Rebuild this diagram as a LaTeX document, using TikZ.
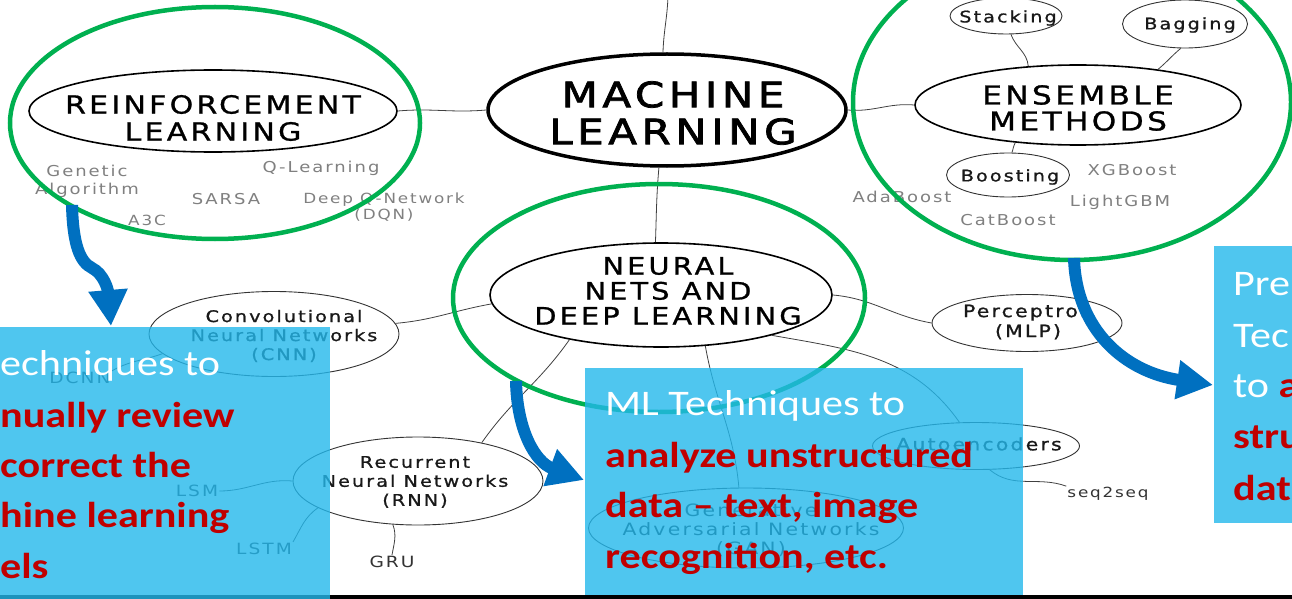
\documentclass[tikz,border=0pt]{standalone}
\usepackage{fontspec}
\usepackage{graphicx}
\usetikzlibrary{shapes.geometric,arrows.meta}
\newfontfamily\hand[FakeStretch=1.2,LetterSpace=13]{DejaVu Sans}
\newfontfamily\handmid[FakeStretch=1.2,LetterSpace=13,FakeBold=1]{DejaVu Sans}
\newfontfamily\handbold[FakeStretch=1.2,LetterSpace=13,FakeBold=2.2]{DejaVu Sans}
\newfontfamily\slide{Carlito}
\newcommand{\stretchx}[1]{\scalebox{1.17}[1]{#1}}
\definecolor{mmgreen}{RGB}{0,176,80}
\definecolor{arrowblue}{RGB}{0,112,192}
\definecolor{boxblue}{RGB}{35,184,236}
\definecolor{boxred}{RGB}{192,0,0}
\definecolor{leafgray}{RGB}{128,128,128}
\tikzset{
  bigblob/.style={draw=black, line width=1.6pt, ellipse, inner sep=0pt},
  smallblob/.style={draw=black!80, line width=0.9pt, ellipse, inner sep=0pt},
  titletext/.style={align=center, inner sep=0pt, text=black},
  nodetext/.style={align=center, inner sep=0pt, text=black!90, font={\handmid\fontsize{16}{19}\selectfont}},
  leaf/.style={align=center, inner sep=1pt, text=leafgray, font={\hand\fontsize{15}{18}\selectfont}},
  darkleaf/.style={align=center, inner sep=1pt, text=black!80, font={\hand\fontsize{15.5}{18}\selectfont}},
  link/.style={draw=black!75, line width=0.8pt},
  focus/.style={draw=mmgreen, line width=4.5pt, ellipse, inner sep=0pt},
  bluearrow/.style={draw=arrowblue, line width=12pt, -{Triangle[length=36pt,width=37pt]}},
  panel/.style={fill=boxblue, fill opacity=0.8, draw=none, inner sep=0pt, anchor=north west},
  whiteline/.style={font={\slide\fontsize{36}{40}\selectfont}, text=white, anchor=base west, inner sep=0pt},
  redline/.style={font={\slide\bfseries\fontsize{36}{40}\selectfont}, text=boxred, anchor=base west, inner sep=0pt},
}
\begin{document}
\begin{tikzpicture}[x=1pt,y=-1pt]
\useasboundingbox (0,0) rectangle (1292,599);
\fill[white] (0,0) rectangle (1292,599);

% ---- main concept blobs ----
\node[bigblob, line width=3.5pt, minimum width=358pt, minimum height=112pt] (ml) at (667,110) {};
\node[titletext, font={\handbold\fontsize{35}{37}\selectfont}] (mlt) at (673,113) {MACHINE\\LEARNING};

\node[bigblob, minimum width=368pt, minimum height=82pt] (rl) at (213,111) {};
\node[titletext, font={\handmid\fontsize{25}{27}\selectfont}] (rlt) at (213,118) {REINFORCEMENT\\LEARNING};

\node[bigblob, minimum width=326pt, minimum height=80pt] (ens) at (1078,105) {};
\node[titletext, font={\handmid\fontsize{26}{26}\selectfont}] (enst) at (1078,108) {ENSEMBLE\\METHODS};

\node[bigblob, minimum width=342pt, minimum height=104pt] (nn) at (661,295) {};
\node[titletext, font={\handmid\fontsize{24}{25}\selectfont}] (nnt) at (668,291) {NEURAL\\NETS AND\\DEEP LEARNING};

% ---- sub blobs ----
\node[smallblob, minimum width=112pt, minimum height=36pt] (stack) at (1006,16) {};
\node[nodetext] (stackt) at (1008,18) {Stacking};
\node[smallblob, minimum width=125pt, minimum height=48pt] (bag) at (1185,24) {};
\node[nodetext] (bagt) at (1190,25) {Bagging};
\node[smallblob, minimum width=123pt, minimum height=44pt] (boost) at (1008,175) {};
\node[nodetext] (boostt) at (1010,177) {Boosting};
\node[smallblob, minimum width=250pt, minimum height=85pt] (cnn) at (274,334) {};
\node[nodetext] (cnnt) at (284,336) {Convolutional\\Neural Networks\\(CNN)};
\node[smallblob, minimum width=250pt, minimum height=88pt] (rnn) at (418,481) {};
\node[nodetext] (rnnt) at (415,482) {Recurrent\\Neural Networks\\(RNN)};
\node[smallblob, minimum width=190pt, minimum height=57pt] (perc) at (1027,323) {};
\node[nodetext, font={\handmid\fontsize{17}{20}\selectfont}] (perct) at (1028,322) {Perceptron\\(MLP)};
\node[smallblob, minimum width=207pt, minimum height=47pt] (auto) at (976,446) {};
\node[nodetext, font={\handmid\fontsize{17}{20}\selectfont}] (autot) at (979,444) {Autoencoders};
\node[smallblob, minimum width=315pt, minimum height=80pt] (gan) at (746,528) {};
\node[nodetext, font={\hand\fontsize{17}{19}\selectfont}] (gant) at (751,530) {Generative\\Adversarial Networks\\(GAN)};

% ---- leaves ----
\node[leaf] (ga) at (87,181) {Genetic\\Algorithm};
\node[leaf] (ql) at (321,168) {Q-Learning};
\node[leaf] (sarsa) at (226,199) {SARSA};
\node[leaf, font={\hand\fontsize{14}{16}\selectfont}] (dqn) at (384,207) {Deep Q-Network\\(DQN)};
\node[leaf, font={\hand\fontsize{14}{16}\selectfont}] (a3c) at (147,220) {A3C};
\node[leaf] (ada) at (902,197) {AdaBoost};
\node[leaf] (xgb) at (1132,170) {XGBoost};
\node[leaf] (lgbm) at (1120,202) {LightGBM};
\node[leaf] (cat) at (1008,220) {CatBoost};
\node[darkleaf] (dcnn) at (80,378) {DCNN};
\node[darkleaf] (lsm) at (197,491) {LSM};
\node[darkleaf] (lstm) at (264,549) {LSTM};
\node[darkleaf] (gru) at (392,562) {GRU};
\node[darkleaf, font={\hand\fontsize{14}{16}\selectfont}] (seq) at (1108,494) {seq2seq};

% ---- connectors ----
\coordinate (mlup) at (668,-4);
\coordinate (stackup) at (996,-4);
\coordinate (bagup) at (1168,-4);
\draw[link] (rl.east) to[out=5,in=185] (ml.west);
\draw[link] (ml.94) to[out=88,in=-92] (mlup);
\draw[link] (ml.262) to[out=-95,in=88] (nn.96);
\draw[link] (ml.east) to[out=-5,in=175] (ens.west);
\draw[link] (stack.-75) to[out=-70,in=95] (ens.142);
\draw[link] (stack.105) to[out=110,in=-80] (stackup);
\draw[link] (bag.-100) to[out=-140,in=40] (ens.24);
\draw[link] (bag.100) to[out=110,in=-70] (bagup);
\draw[link] (boost.80) to[out=70,in=-120] (ens.211);
\draw[link] (nn.183) to[out=190,in=5] (cnn.5);
\draw[link] (cnn.190) to[out=200,in=30] (dcnn.north east);
\draw[link] (nn.206) to[out=235,in=55] (rnn.31);
\draw[link] (rnn.west) to[out=175,in=0] (lsm.east);
\draw[link] (rnn.195) to[out=215,in=60] (lstm.north east);
\draw[link] (rnn.240) to[out=-70,in=80] (gru.north);
\draw[link] (nn.east) to[out=-5,in=170] (perc.west);
\draw[link] (nn.-49) to[out=-80,in=95] (gan.100);
\draw[link] (nn.-20) to[out=-10,in=125] (auto.125);
\draw[link] (auto.-60) to[out=-40,in=160] (seq.north west);

% ---- green focus ellipses ----
\node[focus, minimum width=410pt, minimum height=232pt] (g1) at (215,123) {};
\node[focus, minimum width=412pt, minimum height=228pt] (g2) at (659,298) {};
\node[focus, minimum width=438pt, minimum height=316pt] (g3) at (1072,102) {};

% ---- blue arrows ----
\coordinate (a1s) at (72,205);
\coordinate (a1t) at (111,326);
\coordinate (a2s) at (516,381);
\coordinate (a2t) at (584,480);
\coordinate (a3s) at (1074,258);
\coordinate (a3t) at (1213,385);
\draw[bluearrow] (a1s) .. controls (73,245) and (80,262) .. (92,268) .. controls (104,274) and (108,290) .. (a1t);
\draw[bluearrow] (a2s) .. controls (517,430) and (535,462) .. (a2t);
\draw[bluearrow] (a3s) .. controls (1076,330) and (1125,372) .. (a3t);

% ---- bottom bar and panels ----
\fill[black] (0,595) rectangle (1292,599);
\node[panel, minimum width=330pt, minimum height=272pt] (box1) at (0,327) {};
\node[panel, minimum width=438pt, minimum height=227pt] (box2) at (585,368) {};
\node[panel, minimum width=78pt, minimum height=277pt] (box3) at (1214,246) {};

% ---- panel texts ----
\node[whiteline] (b1l1) at (0,375) {\stretchx{echniques to}};
\node[redline] (b1l2) at (0,427) {\stretchx{nually review}};
\node[redline] (b1l3) at (0,477) {\stretchx{correct the}};
\node[redline] (b1l4) at (0,527) {\stretchx{hine learning}};
\node[redline] (b1l5) at (0,578) {\stretchx{els}};

\node[whiteline] (b2l1) at (605,415) {\stretchx{ML Techniques to}};
\node[redline] (b2l2) at (605,467) {\stretchx{analyze unstructured}};
\node[redline] (b2l3) at (605,517) {\stretchx{data \textendash{} text, image}};
\node[redline] (b2l4) at (605,568) {\stretchx{recognition, etc.}};

\node[whiteline] (b3l1) at (1233,295) {\stretchx{Pre}};
\node[whiteline] (b3l2) at (1233,347) {\stretchx{Tec}};
\node[whiteline] (b3l3) at (1233,397) {\stretchx{to \textcolor{boxred}{\bfseries a}}};
\node[redline] (b3l4) at (1233,448) {\stretchx{stru}};
\node[redline] (b3l5) at (1233,500) {\stretchx{dat}};
\end{tikzpicture}
\end{document}
